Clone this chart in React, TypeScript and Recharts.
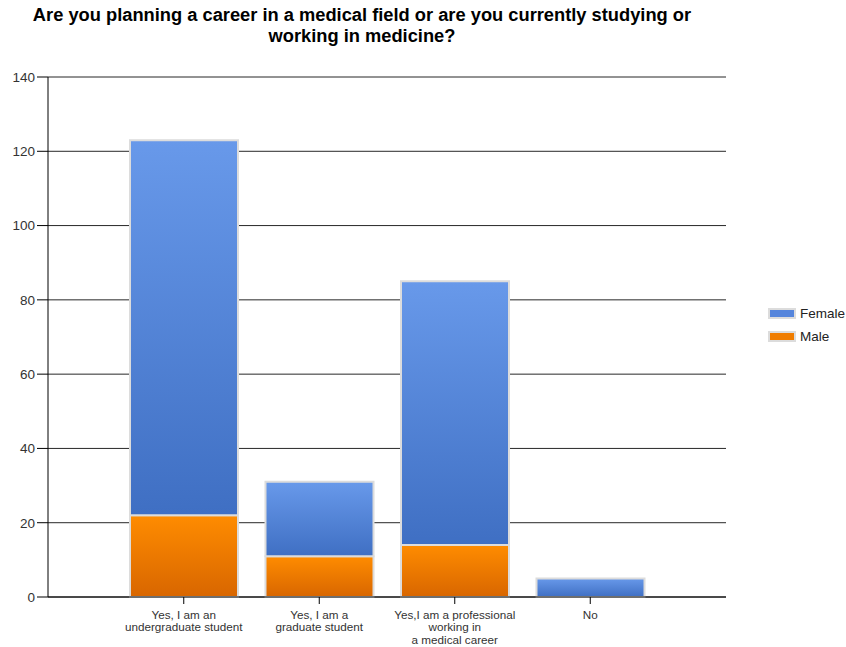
import { Bar, BarChart, CartesianGrid, XAxis, YAxis } from "recharts";

const categories = [
  "Yes, I am an\nundergraduate student",
  "Yes, I am a\ngraduate student",
  "Yes,I am a professional\nworking in\na medical career",
  "No",
];
const female = [101, 20, 71, 5];
const male = [22, 11, 14, 0];
const yTicks = [0, 20, 40, 60, 80, 100, 120, 140];

const seriesNames = ["Female", "Male"];
const seriesColors = ["#5585dc", "#f07d00"];

const font = "'Liberation Sans', Arial, sans-serif";

const data = categories.map((name, i) => ({
  name,
  Female: female[i],
  Male: male[i],
}));

function CategoryTick(props: any) {
  const { x, y, payload } = props;
  const lines = String(payload.value).split("\n");
  return (
    <text x={x} y={y} textAnchor="middle" fontSize={11.7} fill="#333" fontFamily={font}>
      {lines.map((line, i) => (
        <tspan key={i} x={x} dy={12.7}>
          {line}
        </tspan>
      ))}
    </text>
  );
}

export default function App() {
  return (
    <div style={{ position: "relative", width: 846, height: 647, background: "#fff" }}>
      <style>{"body{margin:0}"}</style>
      <div
        style={{
          position: "absolute",
          left: 0,
          top: 3.6,
          width: 724,
          textAlign: "center",
          fontFamily: font,
          fontWeight: "bold",
          fontSize: 18.3,
          lineHeight: "21.5px",
          color: "#000",
        }}
      >
        Are you planning a career in a medical field or are you currently studying or
        <br />
        working in medicine?
      </div>

      <BarChart
        width={846}
        height={647}
        data={data}
        margin={{ top: 77, right: 120, bottom: 0, left: 0 }}
      >
        <defs>
          <linearGradient id="gradFemale" x1="0" y1="0" x2="0" y2="1">
            <stop offset="0%" stopColor="#6899ea" />
            <stop offset="100%" stopColor="#3f6fc3" />
          </linearGradient>
          <linearGradient id="gradMale" x1="0" y1="0" x2="0" y2="1">
            <stop offset="0%" stopColor="#ff8c00" />
            <stop offset="100%" stopColor="#d86600" />
          </linearGradient>
        </defs>
        <CartesianGrid vertical={false} stroke="#000" strokeOpacity={0.85} />
        <XAxis
          xAxisId="end"
          type="number"
          domain={[0, 1]}
          ticks={[1]}
          tickFormatter={() => ""}
          axisLine={false}
          tickSize={7}
          height={0}
          stroke="#000"
        />
        <XAxis
          dataKey="name"
          interval={0}
          height={50}
          padding={{ left: 68, right: 68 }}
          tickSize={7}
          stroke="#000"
          tick={<CategoryTick />}
        />
        <YAxis
          width={48}
          domain={[0, 140]}
          ticks={yTicks}
          interval={0}
          tickSize={11}
          tickMargin={2}
          stroke="#000"
          tick={{ fontSize: 13.5, fill: "#333", fontFamily: font }}
        />
        <Bar
          dataKey="Male"
          stackId="a"
          barSize={108}
          fill="url(#gradMale)"
          stroke="#dcdcdc"
          strokeWidth={2}
          isAnimationActive={false}
        />
        <Bar
          dataKey="Female"
          stackId="a"
          barSize={108}
          fill="url(#gradFemale)"
          stroke="#dcdcdc"
          strokeWidth={2}
          isAnimationActive={false}
        />
      </BarChart>

      <div style={{ position: "absolute", left: 768, top: 302, fontFamily: font, fontSize: 13.5, color: "#222" }}>
        {seriesNames.map((name, i) => (
          <div key={name} style={{ display: "flex", alignItems: "center", height: 23 }}>
            <span
              style={{
                display: "inline-block",
                width: 24,
                height: 7,
                background: seriesColors[i],
                border: "2px solid #dcdcdc",
                marginRight: 4,
              }}
            />
            {name}
          </div>
        ))}
      </div>
    </div>
  );
}
